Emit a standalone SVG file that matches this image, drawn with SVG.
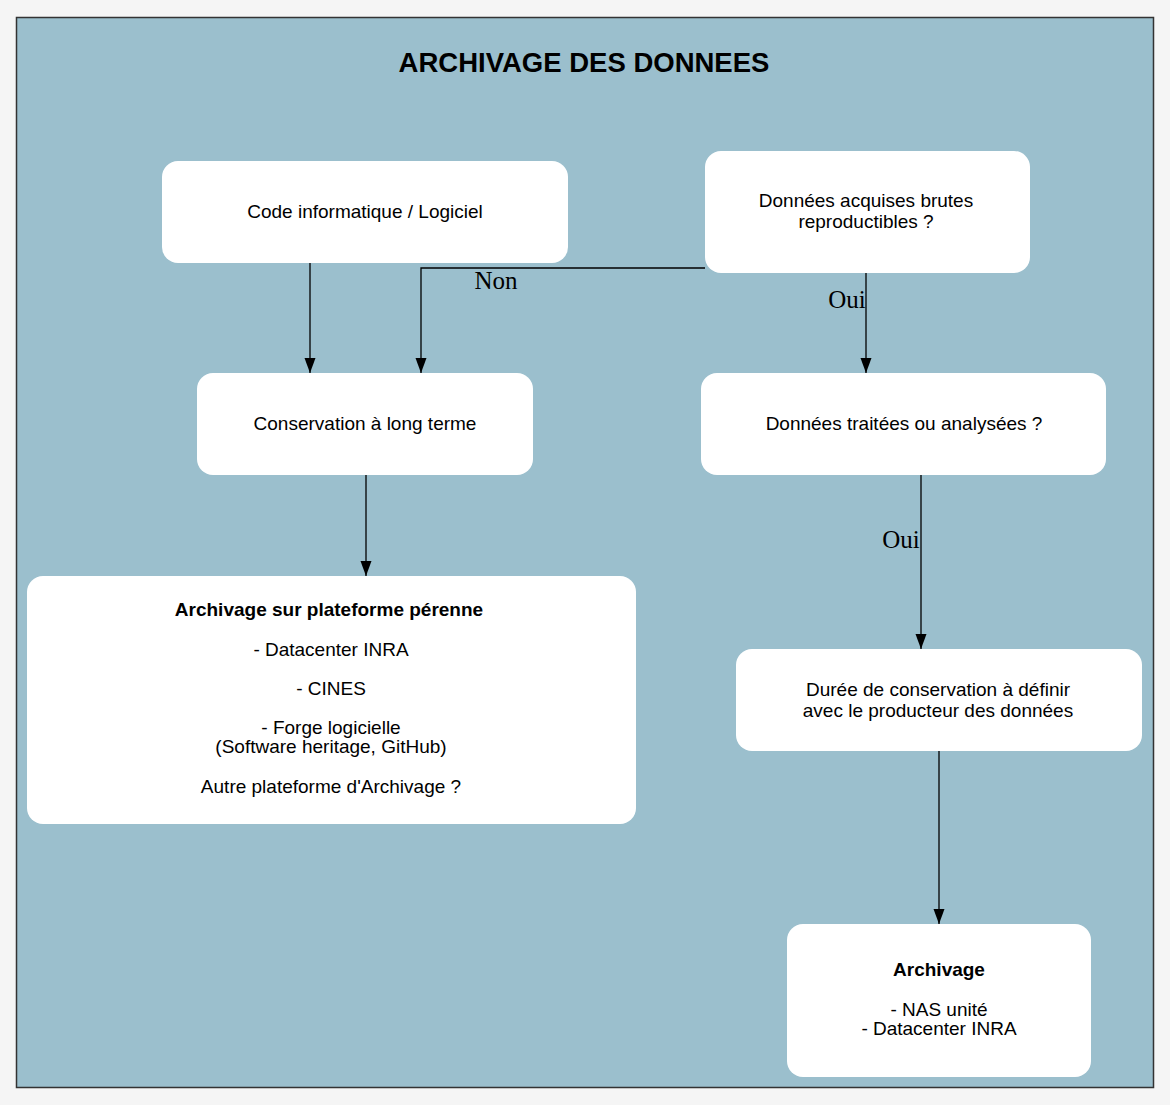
<svg xmlns="http://www.w3.org/2000/svg" width="1170" height="1105" viewBox="0 0 1170 1105">
<defs>
<style>
.node rect{fill:#ffffff;stroke:none}
.t{font-family:"Liberation Sans",Arial,sans-serif;font-size:19px;fill:#000;text-anchor:middle}
.b{font-weight:bold}
.lbl{font-family:"Liberation Serif","Times New Roman",serif;font-size:25px;fill:#000;text-anchor:middle}
.edge{fill:none;stroke:#000;stroke-width:1.3}
</style>
<marker id="arr" markerWidth="12" markerHeight="16" refX="5.5" refY="15" orient="auto-start-reverse" markerUnits="userSpaceOnUse" viewBox="0 0 11 16">
<path d="M0,0 L11,0 L5.5,15 Z" fill="#000" transform="rotate(0)"/>
</marker>
<marker id="ah" markerWidth="16" markerHeight="12" refX="15" refY="5.5" orient="auto" markerUnits="userSpaceOnUse" viewBox="0 0 16 11">
<path d="M0,0 L15,5.5 L0,11 Z" fill="#000"/>
</marker>
</defs>
<rect x="0" y="0" width="1170" height="1105" fill="#f5f5f5"/>
<rect x="16.5" y="17.5" width="1137" height="1070" fill="#9bbfcd" stroke="#333" stroke-width="1.5"/>
<text x="584" y="72" style="font-family:'Liberation Sans',Arial,sans-serif;font-size:27.5px;font-weight:bold;text-anchor:middle">ARCHIVAGE DES DONNEES</text>

<g id="connectors">
<path class="edge" d="M310,263 V373" marker-end="url(#ah)"/>
<path class="edge" d="M705,268 H421 V373" marker-end="url(#ah)"/>
<text class="lbl" x="496" y="289">Non</text>
<path class="edge" d="M866,273 V373" marker-end="url(#ah)"/>
<text class="lbl" x="847" y="308">Oui</text>
<path class="edge" d="M366,475 V576" marker-end="url(#ah)"/>
<path class="edge" d="M921,475 V649" marker-end="url(#ah)"/>
<text class="lbl" x="901" y="548">Oui</text>
<path class="edge" d="M939,751 V924" marker-end="url(#ah)"/>
</g>

<g id="n-code" class="node">
<rect x="162" y="161" width="406" height="102" rx="16"/>
<text class="t" x="365" y="218">Code informatique / Logiciel</text>
</g>
<g id="n-brutes" class="node">
<rect x="705" y="151" width="325" height="122" rx="16"/>
<text class="t" x="866" y="207">Données acquises brutes</text>
<text class="t" x="866" y="228">reproductibles ?</text>
</g>
<g id="n-conservation" class="node">
<rect x="197" y="373" width="336" height="102" rx="16"/>
<text class="t" x="365" y="430">Conservation à long terme</text>
</g>
<g id="n-traitees" class="node">
<rect x="701" y="373" width="405" height="102" rx="16"/>
<text class="t" x="904" y="430">Données traitées ou analysées ?</text>
</g>
<g id="n-plateforme" class="node">
<rect x="27" y="576" width="609" height="248" rx="16"/>
<text class="t b" x="329" y="616">Archivage sur plateforme pérenne</text>
<text class="t" x="331" y="656">- Datacenter INRA</text>
<text class="t" x="331" y="695">- CINES</text>
<text class="t" x="331" y="734">- Forge logicielle</text>
<text class="t" x="331" y="753">(Software heritage, GitHub)</text>
<text class="t" x="331" y="793">Autre plateforme d'Archivage ?</text>
</g>
<g id="n-duree" class="node">
<rect x="736" y="649" width="406" height="102" rx="16"/>
<text class="t" x="938" y="696">Durée de conservation à définir</text>
<text class="t" x="938" y="717">avec le producteur des données</text>
</g>
<g id="n-archivage" class="node">
<rect x="787" y="924" width="304" height="153" rx="16"/>
<text class="t b" x="939" y="976">Archivage</text>
<text class="t" x="939" y="1016">- NAS unité</text>
<text class="t" x="939" y="1035">- Datacenter INRA</text>
</g>
</svg>
